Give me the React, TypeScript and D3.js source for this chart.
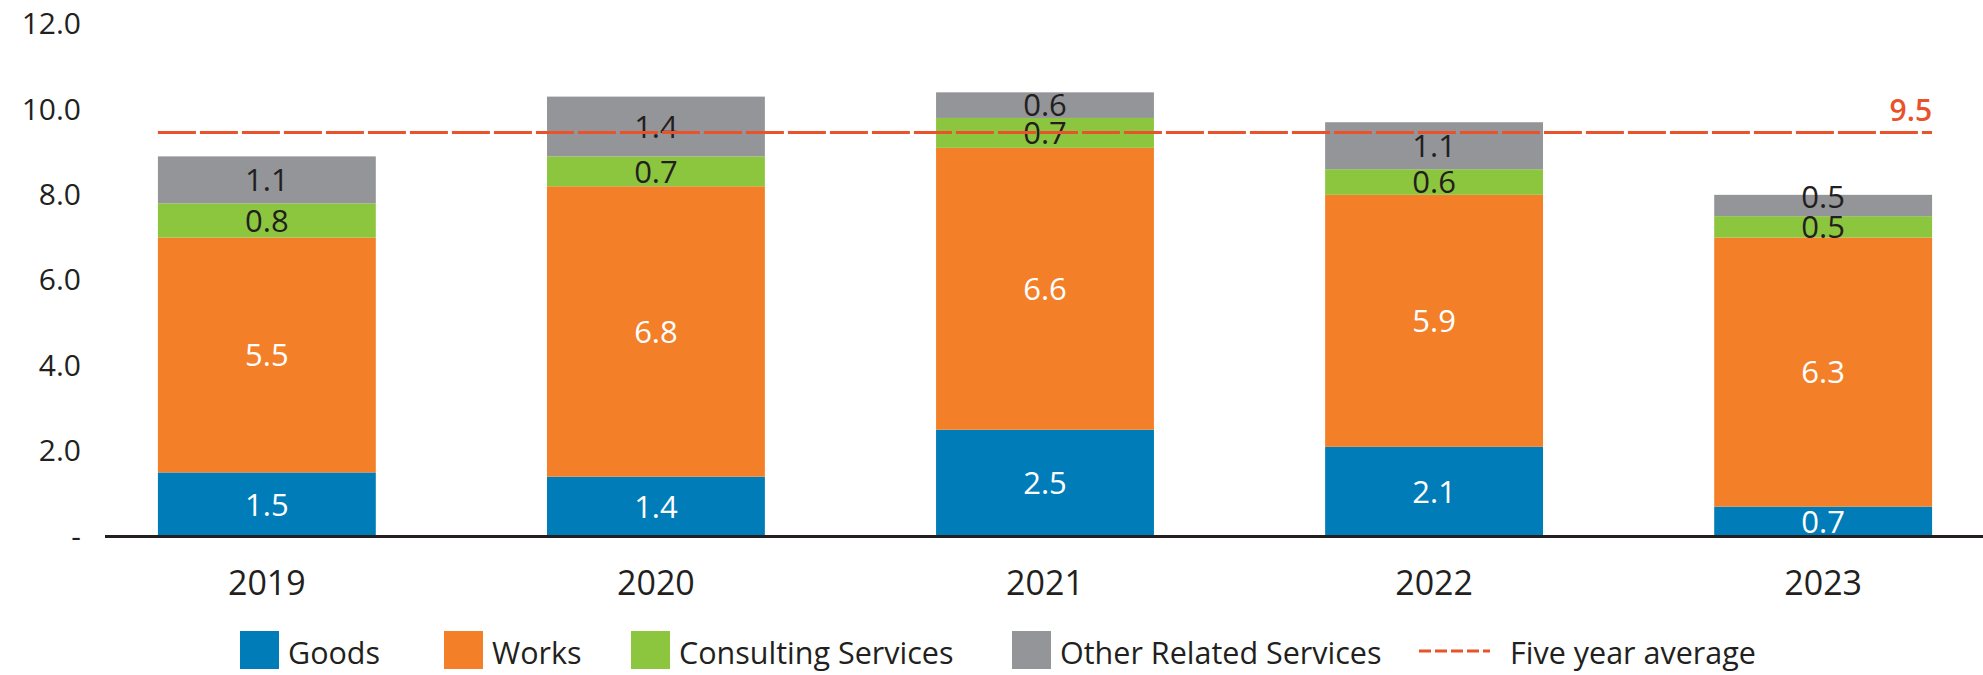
import React, { useEffect, useRef } from 'react';
import * as d3 from 'd3';

const years = ['2019', '2020', '2021', '2022', '2023'];
const goods = [1.5, 1.4, 2.5, 2.1, 0.7];
const works = [5.5, 6.8, 6.6, 5.9, 6.3];
const consulting = [0.8, 0.7, 0.7, 0.6, 0.5];
const otherServices = [1.1, 1.4, 0.6, 1.1, 0.5];
const fiveYearAverage = 9.46;
const yTicks = [0, 2, 4, 6, 8, 10, 12];

const seriesKeys = ['goods', 'works', 'consulting', 'other'];
const seriesNames = ['Goods', 'Works', 'Consulting Services', 'Other Related Services'];
const seriesColors = ['#007cb8', '#f47f29', '#8cc63f', '#939598'];
const labelColors = ['#ffffff', '#ffffff', '#231f20', '#231f20'];
const avgColor = '#e8532b';
const textColor = '#231f20';
const font = '"Open Sans", "Noto Sans", sans-serif';

const width = 1983;
const height = 675;

const App = () => {
  const ref = useRef<SVGSVGElement>(null);

  useEffect(() => {
    const svg = d3.select(ref.current);
    svg.selectAll('*').remove();

    const rows = years.map((year, i) => ({
      year,
      goods: goods[i],
      works: works[i],
      consulting: consulting[i],
      other: otherServices[i],
    }));

    const x = d3.scaleBand()
      .domain(years)
      .range([105, 1985])
      .paddingInner(0.44)
      .paddingOuter(0.136);

    const y = d3.scaleLinear()
      .domain([0, 12])
      .range([536.5, 24]);

    const stacked = d3.stack<any>().keys(seriesKeys)(rows);

    // Y axis labels (zero shown as a dash)
    const yAxis = svg.append('g')
      .attr('transform', 'translate(81,0)')
      .call(d3.axisLeft(y).tickValues(yTicks).tickSize(0).tickPadding(0)
        .tickFormat((d: any) => (d === 0 ? '-' : d3.format('.1f')(d))));
    yAxis.select('.domain').remove();
    yAxis.selectAll('text')
      .attr('fill', textColor)
      .style('font-family', font)
      .style('font-size', '30px');

    // Bars
    stacked.forEach((layer, si) => {
      svg.append('g')
        .selectAll('rect')
        .data(layer)
        .join('rect')
        .attr('x', d => x(d.data.year)!)
        .attr('width', x.bandwidth())
        .attr('y', d => y(d[1]))
        .attr('height', d => y(d[0]) - y(d[1]))
        .attr('fill', seriesColors[si]);
    });

    // Segment labels; a thin top segment gets its label nudged up
    stacked.forEach((layer, si) => {
      const isTop = si === stacked.length - 1;
      svg.append('g')
        .selectAll('text')
        .data(layer)
        .join('text')
        .attr('x', d => x(d.data.year)! + x.bandwidth() / 2)
        .attr('y', d => {
          const mid = (y(d[0]) + y(d[1])) / 2;
          return isTop && d[1] - d[0] <= 0.5 ? mid - 9 : mid;
        })
        .attr('dy', '0.36em')
        .attr('text-anchor', 'middle')
        .attr('fill', labelColors[si])
        .style('font-family', font)
        .style('font-size', '31px')
        .text(d => d3.format('.1f')(d[1] - d[0]));
    });

    // Baseline
    svg.append('line')
      .attr('x1', 105)
      .attr('x2', width)
      .attr('y1', y(0))
      .attr('y2', y(0))
      .attr('stroke', textColor)
      .attr('stroke-width', 3);

    // Five year average
    const avgX0 = x(years[0])!;
    const avgX1 = x(years[years.length - 1])! + x.bandwidth();
    svg.append('line')
      .attr('x1', avgX0)
      .attr('x2', avgX1)
      .attr('y1', y(fiveYearAverage))
      .attr('y2', y(fiveYearAverage))
      .attr('stroke', avgColor)
      .attr('stroke-width', 3)
      .attr('stroke-dasharray', '38 4');

    svg.append('text')
      .attr('x', avgX1)
      .attr('y', y(fiveYearAverage) - 11)
      .attr('text-anchor', 'end')
      .attr('fill', avgColor)
      .style('font-family', font)
      .style('font-size', '30px')
      .style('font-weight', 600)
      .text(d3.format('.1f')(fiveYearAverage));

    // Year labels
    svg.append('g')
      .selectAll('text')
      .data(years)
      .join('text')
      .attr('x', d => x(d)! + x.bandwidth() / 2)
      .attr('y', 595)
      .attr('text-anchor', 'middle')
      .attr('fill', textColor)
      .style('font-family', font)
      .style('font-size', '34px')
      .text(d => d);

    // Legend
    const legendItems = [
      { name: seriesNames[0], color: seriesColors[0], x: 240 },
      { name: seriesNames[1], color: seriesColors[1], x: 444 },
      { name: seriesNames[2], color: seriesColors[2], x: 631 },
      { name: seriesNames[3], color: seriesColors[3], x: 1012 },
    ];
    const legend = svg.append('g');
    legendItems.forEach(item => {
      legend.append('rect')
        .attr('x', item.x)
        .attr('y', 631)
        .attr('width', 39)
        .attr('height', 38)
        .attr('fill', item.color);
      legend.append('text')
        .attr('x', item.x + 48)
        .attr('y', 664)
        .attr('fill', textColor)
        .style('font-family', font)
        .style('font-size', '30.5px')
        .text(item.name);
    });
    legend.append('line')
      .attr('x1', 1419)
      .attr('x2', 1490)
      .attr('y1', 651)
      .attr('y2', 651)
      .attr('stroke', avgColor)
      .attr('stroke-width', 3)
      .attr('stroke-dasharray', '12 4');
    legend.append('text')
      .attr('x', 1510)
      .attr('y', 664)
      .attr('fill', textColor)
      .style('font-family', font)
      .style('font-size', '30.5px')
      .text('Five year average');
  }, []);

  return (
    <svg
      ref={ref}
      width={width}
      height={height}
      style={{ position: 'absolute', left: 0, top: 0, display: 'block', background: '#fff' }}
    />
  );
};

export default App;
